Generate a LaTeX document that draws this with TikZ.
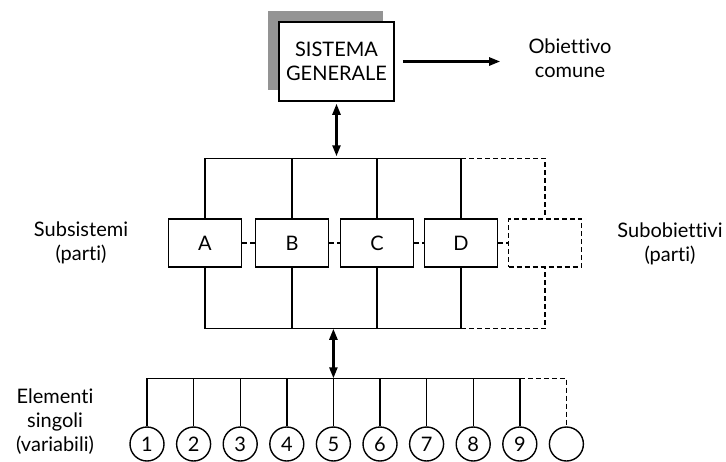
\documentclass[tikz,border=0pt]{standalone}
\usepackage{fontspec}
\setmainfont{Lato}[Ligatures={NoCommon,NoRare}]
\usetikzlibrary{arrows.meta,positioning,shadows}

\begin{document}
\begin{tikzpicture}[
  x=0.5pt, y=-0.5pt,
  every node/.style={font=\fontsize{10}{12}\selectfont},
  sysbox/.style={draw, line width=0.75pt, fill=white, minimum width=57.5pt,
                 minimum height=39.5pt, align=center, inner sep=0pt,
                 drop shadow={shadow xshift=-5.5pt, shadow yshift=5.5pt,
                              fill=black!42, opacity=1}},
  part/.style={draw, line width=0.75pt, minimum width=36.5pt,
               minimum height=24pt, inner sep=0pt},
  elem/.style={draw, circle, line width=0.7pt, minimum size=17pt, inner sep=0pt},
  lbl/.style={align=center, inner sep=0pt},
  link/.style={line width=0.7pt},
  dlink/.style={line width=0.7pt, dash pattern=on 2.5pt off 1.5pt},
  arr/.style={-{Triangle[length=5.5pt,width=4pt]}, line width=1.2pt},
  darr/.style={{Triangle[length=5.5pt,width=4pt]}-{Triangle[length=5.5pt,width=4pt]},
               line width=1.2pt}
]
\useasboundingbox (0,0) rectangle (726,461);

% sistema generale
\node[sysbox] (sys) at (336.5,61.5) {SISTEMA\\GENERALE};
\node[lbl] (obj) at (570,58) {Obiettivo\\comune};
\draw[arr, shorten <=4pt, shorten >=14pt] (sys.east) -- (sys.east -| obj.west);

% subsistemi
\node[part] (A) at (205,243) {A};
\node[part] (B) at (292,243) {B};
\node[part] (C) at (377,243) {C};
\node[part] (D) at (461,243) {D};
\node[part, dash pattern=on 2.5pt off 1.5pt] (E) at (545,243) {};

\foreach \b in {A,B,C,D} {
  \draw[link] (\b.north) -- ++(0,-60) coordinate (\b t);
  \draw[link] (\b.south) -- ++(0,61) coordinate (\b b);
}
\draw[link] (At) -- (Dt);
\draw[link] (Ab) -- (Db);
\draw[dlink] (Dt) -| (E.north);
\draw[dlink] (Db) -| (E.south);
\foreach \a/\b in {A/B, B/C, C/D, D/E}
  \draw[dlink] (\a) -- (\b);

\draw[darr, shorten <=1pt, shorten >=1pt] (sys.south) -- (sys.south |- At);

\node[lbl] (sub) at (81,243) {Subsistemi\\(parti)};
\node[lbl] (subobj) at (670,244) {Subobiettivi\\(parti)};

% elementi singoli
\foreach \i in {1,...,9}
  \node[elem] (c\i) at ({147+46.6*(\i-1)},444) {\i};
\node[elem] (c10) at (566.4,444) {};

\foreach \i in {1,...,9}
  \draw[link] (c\i.north) -- ++(0,-48) coordinate (e\i);
\draw[link] (e1) -- (e9);
\draw[dlink] (e9) -| (c10.north);

\draw[darr] (e5 |- Ab) -- (e5);

\node[lbl] (elm) at (55,422) {Elementi\\singoli\\(variabili)};
\end{tikzpicture}
\end{document}
